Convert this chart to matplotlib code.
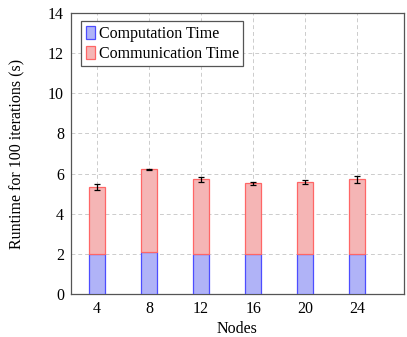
import matplotlib
matplotlib.use("Agg")
import matplotlib.pyplot as plt
from matplotlib.patches import Patch

nodes = [4, 8, 12, 16, 20, 24]
computation = [2.0, 2.1, 2.0, 2.0, 2.0, 2.0]
communication = [3.32, 4.11, 3.71, 3.51, 3.58, 3.71]
errors = [0.16, 0.04, 0.11, 0.09, 0.12, 0.17]
yticks = [0, 2, 4, 6, 8, 10, 12, 14]

plt.rcParams['font.family'] = ['Liberation Serif', 'DejaVu Serif']

fig = plt.figure(figsize=(4.07, 3.37), dpi=100)
ax = fig.add_axes([71/407, 1-294/337, (404-71)/407, (294-13)/337])

blue_fill = (0.69, 0.70, 0.97)
red_fill = (0.96, 0.71, 0.71)
blue_edge = (0.3, 0.3, 1.0)
red_edge = (1.0, 0.4, 0.4)
w = 1.2
ax.bar(nodes, computation, width=w, color=blue_fill, edgecolor=blue_edge, linewidth=0.9, zorder=3)
tops = [c + m for c, m in zip(computation, communication)]
ax.bar(nodes, communication, bottom=computation, width=w, color=red_fill, edgecolor=red_edge, linewidth=0.9, zorder=3)
ax.errorbar(nodes, tops, yerr=errors, fmt='none', ecolor='black', elinewidth=0.9, capsize=2.3, capthick=0.9, zorder=4)

ax.set_xlim(2, 27.6)
ax.set_ylim(0, 14)
ax.set_xticks(nodes)
ax.set_yticks(yticks)
ax.grid(True, linestyle=(0, (4, 3)), color='#cccccc', linewidth=0.7, zorder=0)
ax.set_axisbelow(True)
for s in ax.spines.values():
    s.set_color('#555555')
    s.set_linewidth(0.9)
fs = 11.5
ax.tick_params(axis='both', direction='in', length=0, labelsize=fs, pad=5, colors='black')
ax.set_xlabel('Nodes', fontsize=fs, labelpad=3)
ax.set_ylabel('Runtime for 100 iterations (s)', fontsize=fs, labelpad=16.5)

handles = [Patch(facecolor=blue_fill, edgecolor=blue_edge, linewidth=0.9),
           Patch(facecolor=red_fill, edgecolor=red_edge, linewidth=0.9)]
leg = ax.legend(handles, ['Computation Time', 'Communication Time'], loc='upper left',
                bbox_to_anchor=(0.03, 0.97), fontsize=fs, frameon=True, fancybox=False,
                edgecolor='#555555', framealpha=1, handlelength=0.6, handleheight=0.9,
                handletextpad=0.2, borderpad=0.3, labelspacing=0.2, borderaxespad=0.0)
leg.get_frame().set_linewidth(0.9)

fig.savefig('out.png', dpi=100)
